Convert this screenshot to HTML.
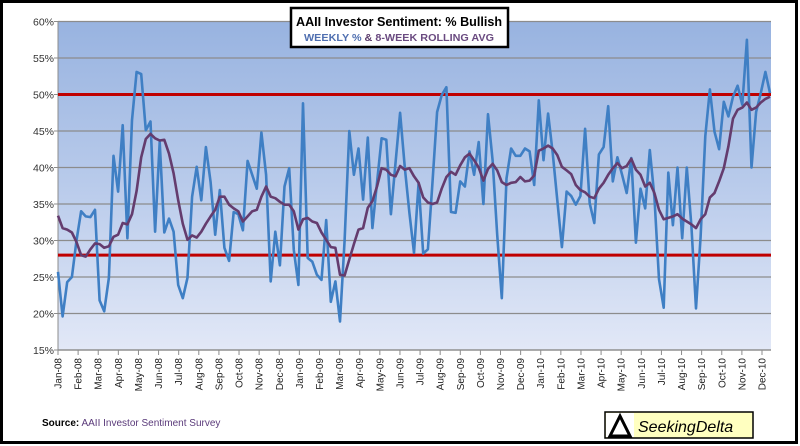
<!DOCTYPE html>
<html><head><meta charset="utf-8"><style>
body{margin:0;background:#fff;}
#wrap{position:relative;width:800px;height:446px;overflow:hidden;font-family:"Liberation Sans",sans-serif;}
</style></head><body>
<div id="wrap">
<svg id="chart" width="800" height="446" xmlns="http://www.w3.org/2000/svg">
<defs>
<linearGradient id="bg" x1="0" y1="0" x2="0" y2="1">
<stop offset="0" stop-color="#98b3e0"/><stop offset="0.5" stop-color="#b9cbeb"/><stop offset="1" stop-color="#e2e8f7"/>
</linearGradient>
</defs>
<rect x="1.5" y="1.5" width="795" height="441" fill="#fff" stroke="#000" stroke-width="3"/>
<rect x="58" y="21" width="713" height="329" fill="url(#bg)"/>
<g id="grid"></g><g id="yaxis"></g><g id="xaxis"></g><g id="refs"></g><g id="series"></g>
<g>
<rect x="291" y="8" width="217" height="39" fill="#fff" stroke="#000" stroke-width="2.5"/>
<text x="399" y="26" text-anchor="middle" font-size="13" font-weight="bold" fill="#000" textLength="206" lengthAdjust="spacingAndGlyphs">AAII Investor Sentiment: % Bullish</text>
<text x="399" y="41" text-anchor="middle" font-size="10" font-weight="bold" fill="#4f6fb0" textLength="190" lengthAdjust="spacingAndGlyphs">WEEKLY % <tspan fill="#5a3a6a">&amp;</tspan> <tspan fill="#6a4a80">8-WEEK ROLLING AVG</tspan></text>
</g>
<text x="42" y="426" font-size="10"><tspan font-weight="bold" fill="#000">Source:</tspan><tspan fill="#5a3a7a"> AAII Investor Sentiment Survey</tspan></text>
<g>
<rect x="605" y="412" width="148" height="26" fill="#ffffc0" stroke="#000" stroke-width="1.5"/>
<rect x="606" y="413" width="28" height="24" fill="#fff"/>
<polygon points="620,416 610,436 630,436" fill="none" stroke="#000" stroke-width="3"/>
<text x="638" y="432" font-size="16" font-style="italic" fill="#000">SeekingDelta</text>
</g>
</svg>
</div>
<script>
const weekly=[25.7,19.6,24.3,25.0,30.0,34.0,33.3,33.2,34.2,21.8,20.3,24.9,41.6,36.7,45.8,30.3,46.5,53.1,52.8,45.1,46.3,31.2,43.5,31.1,33.0,31.2,23.9,22.1,24.9,36.0,40.1,35.5,42.8,38.0,30.8,36.9,29.0,27.2,33.9,33.6,31.4,40.9,39.0,37.1,44.8,39.0,24.4,31.2,26.6,37.4,39.9,28.7,23.9,48.8,27.6,27.1,25.3,24.6,32.8,21.6,24.4,18.9,30.0,45.0,39.0,42.6,35.6,44.1,31.7,37.9,44.0,43.8,33.6,40.6,47.5,40.0,33.8,28.3,37.9,28.2,28.8,38.0,47.6,49.9,51.0,33.9,33.8,38.1,37.4,42.2,39.0,43.5,35.0,47.3,41.0,30.8,22.1,38.5,42.6,41.6,41.6,42.6,42.2,37.6,49.2,41.0,47.4,42.0,35.5,29.1,36.7,36.1,34.9,36.1,45.3,35.1,32.4,41.8,42.8,48.4,38.1,41.4,39.0,36.5,41.3,29.7,37.1,34.4,42.4,36.0,24.7,20.8,39.3,32.1,40.0,30.3,40.0,32.0,20.7,30.5,44.3,50.7,44.9,42.5,49.0,47.0,49.7,51.2,48.6,57.5,40.0,47.6,50.2,53.1,50.2];
const rolling=[33.4,31.7,31.5,31.1,29.8,28.0,27.8,28.8,29.6,29.5,29.0,29.2,30.5,30.8,32.4,32.2,33.6,36.8,41.4,43.9,44.6,44.0,43.7,43.8,41.9,39.2,35.5,32.3,30.1,30.7,30.4,31.2,32.3,33.3,34.2,36.0,36.0,34.9,34.4,34.0,32.6,33.3,34.0,34.2,36.0,37.4,36.0,35.8,35.3,34.9,34.9,34.0,31.5,32.9,33.1,32.6,32.4,31.1,30.1,29.1,29.0,25.3,25.2,27.4,29.5,31.5,31.7,34.5,35.4,37.4,39.9,39.7,39.0,38.8,40.2,39.7,39.9,38.8,37.9,35.9,35.2,35.0,35.2,37.1,38.7,39.4,39.0,40.3,41.4,41.9,41.0,40.0,38.2,39.8,40.5,39.6,38.0,37.6,37.9,38.0,38.7,38.1,38.2,38.9,42.3,42.6,43.0,42.6,41.7,40.1,39.6,39.1,37.6,36.9,36.6,36.0,35.8,37.1,37.9,39.0,39.9,40.6,39.9,40.2,41.2,39.7,39.0,37.4,37.9,36.5,34.2,32.9,33.1,33.3,33.6,33.0,32.6,32.2,31.7,32.9,33.6,35.9,36.5,38.1,39.9,42.9,46.7,47.9,48.2,48.9,47.9,48.2,48.9,49.4,49.7];
const yTicks=[15,20,25,30,35,40,45,50,55,60];
const months=["Jan-08","Feb-08","Mar-08","Apr-08","May-08","Jun-08","Jul-08","Aug-08","Sep-08","Oct-08","Nov-08","Dec-08","Jan-09","Feb-09","Mar-09","Apr-09","May-09","Jun-09","Jul-09","Aug-09","Sep-09","Oct-09","Nov-09","Dec-09","Jan-10","Feb-10","Mar-10","Apr-10","May-10","Jun-10","Jul-10","Aug-10","Sep-10","Oct-10","Nov-10","Dec-10"];
const refLevels=[50,28];

const NS="http://www.w3.org/2000/svg";
const X0=58,X1=770,Y0=350,Y1=21.5,VMIN=15,VMAX=60;
function yScale(v){return Y0-(v-VMIN)/(VMAX-VMIN)*(Y0-Y1);}
function xWeek(i){return X0+i*(X1-X0)/(weekly.length-1);}
function xMonth(m){return X0+m*(762-X0)/(months.length-1);}
function mk(tag,attrs,parent){const e=document.createElementNS(NS,tag);for(const k in attrs)e.setAttribute(k,attrs[k]);parent.appendChild(e);return e;}
const grid=document.getElementById('grid'),ya=document.getElementById('yaxis'),xa=document.getElementById('xaxis'),refs=document.getElementById('refs'),ser=document.getElementById('series');
yTicks.forEach(t=>{
  const y=yScale(t);
  const g=mk('line',{x1:X0,x2:771,y1:y,y2:y,stroke:'#8c8c8c','stroke-width':1.3},grid);
  
  
  const tk=mk('line',{x1:X0-4,x2:X0,y1:y,y2:y,stroke:'#8c8c8c'},ya);
  
  
  const tx=mk('text',{x:X0-4,y:y+4,'text-anchor':'end','font-size':10.5,fill:'#333'},ya);
  tx.textContent=t+'%';
  
  
});
const ax=mk('line',{x1:X0,x2:X0,y1:Y1,y2:Y0,stroke:'#8c8c8c'},ya);


const bx=mk('line',{x1:X0,x2:771,y1:Y0,y2:Y0,stroke:'#8c8c8c','stroke-width':1.3},xa);


months.forEach((m,i)=>{
  const x=xMonth(i);
  const tk=mk('line',{x1:x,x2:x,y1:Y0,y2:Y0+5,stroke:'#8c8c8c'},xa);
  
  
  const tx=mk('text',{x:0,y:0,'text-anchor':'end','font-size':10,fill:'#222',transform:'translate('+(x+3.5)+','+(Y0+8)+') rotate(-90)'},xa);
  tx.textContent=m;
  
  
});
refLevels.forEach(r=>{
  const y=yScale(r);
  const l=mk('line',{x1:X0,x2:771,y1:y,y2:y,stroke:'#c00000','stroke-width':3},refs);
  
  
});
function pts(arr){return arr.map((v,i)=>xWeek(i).toFixed(1)+','+yScale(v).toFixed(1)).join(' ');}
const wl=mk('polyline',{points:pts(weekly),fill:'none',stroke:'#3f7fc4','stroke-width':2.6,'stroke-linejoin':'round'},ser);


const rl=mk('polyline',{points:pts(rolling),fill:'none',stroke:'#643c6e','stroke-width':2.6,'stroke-linejoin':'round'},ser);


</script>
</body></html>
